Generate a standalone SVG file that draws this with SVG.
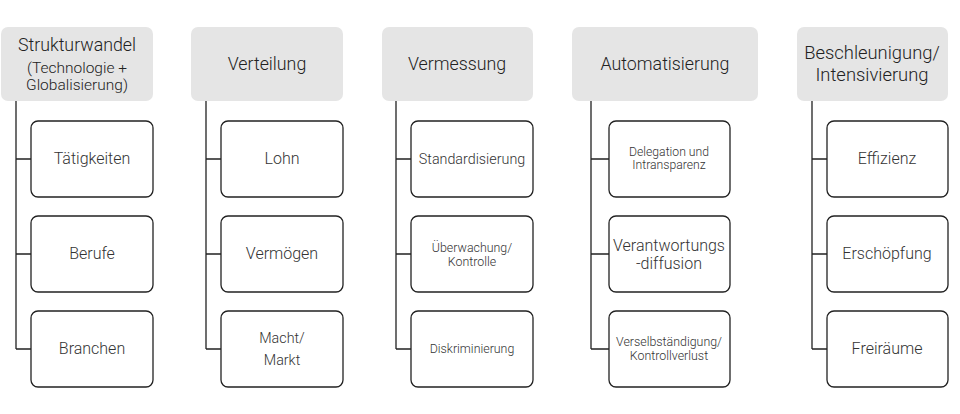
<svg xmlns="http://www.w3.org/2000/svg" width="960" height="414" viewBox="0 0 960 414">
<style>
.h{fill:#e5e5e5;stroke:none}
.c{fill:#fff;stroke:#222;stroke-width:1.3}
.l{fill:none;stroke:#222;stroke-width:1.3}
text{font-family:Roboto,"Liberation Sans",sans-serif;font-weight:300;fill:#333;text-anchor:middle}
.t18{font-size:17.8px;fill:#222}
.t185{font-size:18.4px;fill:#222}
.t16{font-size:16px}
.t16h{font-size:15.5px;fill:#222}
.t14{font-size:14.3px}
.t12{font-size:12.4px}
.t11{font-size:12.2px}
</style>
<rect width="960" height="414" fill="#fff"/>
<g id="connectors">
<path class="l" d="M16 101V349M16 159H31M16 254H31M16 349H31"/>
<path class="l" d="M206 101V349M206 159H221M206 254H221M206 349H221"/>
<path class="l" d="M396 101V349M396 159H411M396 254H411M396 349H411"/>
<path class="l" d="M591 101V349M591 159H609M591 254H609M591 349H609"/>
<path class="l" d="M812 101V349M812 159H827M812 254H827M812 349H827"/>
</g>
<g id="h1"><rect class="h" x="1" y="27" width="152" height="74" rx="7"/><text class="t18" x="77" y="51">Strukturwandel</text><text class="t16h" x="77" y="73">(Technologie +</text><text class="t16h" x="77" y="90">Globalisierung)</text></g>
<g id="c1a"><rect class="c" x="31" y="121" width="122" height="76" rx="7"/><text class="t16" x="92" y="164">Tätigkeiten</text></g>
<g id="c1b"><rect class="c" x="31" y="216" width="122" height="76" rx="7"/><text class="t16" x="92" y="259">Berufe</text></g>
<g id="c1c"><rect class="c" x="31" y="311" width="122" height="76" rx="7"/><text class="t16" x="92" y="354">Branchen</text></g>
<g id="h2"><rect class="h" x="191" y="27" width="152" height="74" rx="7"/><text class="t18" x="267" y="70">Verteilung</text></g>
<g id="c2a"><rect class="c" x="221" y="121" width="122" height="76" rx="7"/><text class="t16" x="282" y="164">Lohn</text></g>
<g id="c2b"><rect class="c" x="221" y="216" width="122" height="76" rx="7"/><text class="t16" x="282" y="259">Vermögen</text></g>
<g id="c2c"><rect class="c" x="221" y="311" width="122" height="76" rx="7"/><text class="t14" x="282" y="343">Macht/</text><text class="t14" x="282" y="365">Markt</text></g>
<g id="h3"><rect class="h" x="382" y="27" width="151" height="74" rx="7"/><text class="t18" x="457" y="70">Vermessung</text></g>
<g id="c3a"><rect class="c" x="411" y="121" width="122" height="76" rx="7"/><text class="t14" x="472" y="164">Standardisierung</text></g>
<g id="c3b"><rect class="c" x="411" y="216" width="122" height="76" rx="7"/><text class="t12" x="472" y="252">Überwachung/</text><text class="t12" x="472" y="266">Kontrolle</text></g>
<g id="c3c"><rect class="c" x="411" y="311" width="122" height="76" rx="7"/><text class="t12" x="472" y="353">Diskriminierung</text></g>
<g id="h4"><rect class="h" x="572" y="27" width="186" height="74" rx="7"/><text class="t18" x="665" y="70">Automatisierung</text></g>
<g id="c4a"><rect class="c" x="609" y="121" width="121" height="76" rx="7"/><text class="t11" x="669" y="156">Delegation und</text><text class="t11" x="669" y="169">Intransparenz</text></g>
<g id="c4b"><rect class="c" x="609" y="216" width="121" height="76" rx="7"/><text class="t16" x="669" y="251">Verantwortungs</text><text class="t16" x="669" y="269">-diffusion</text></g>
<g id="c4c"><rect class="c" x="609" y="311" width="121" height="76" rx="7"/><text class="t12" x="669" y="346">Verselbständigung/</text><text class="t12" x="669" y="360">Kontrollverlust</text></g>
<g id="h5"><rect class="h" x="797" y="27" width="151" height="74" rx="7"/><text class="t185" x="872" y="59">Beschleunigung/</text><text class="t185" x="872" y="81">Intensivierung</text></g>
<g id="c5a"><rect class="c" x="827" y="121" width="121" height="76" rx="7"/><text class="t16" x="887" y="164">Effizienz</text></g>
<g id="c5b"><rect class="c" x="827" y="216" width="121" height="76" rx="7"/><text class="t16" x="887" y="259">Erschöpfung</text></g>
<g id="c5c"><rect class="c" x="827" y="311" width="121" height="76" rx="7"/><text class="t16" x="887" y="354">Freiräume</text></g>
</svg>
